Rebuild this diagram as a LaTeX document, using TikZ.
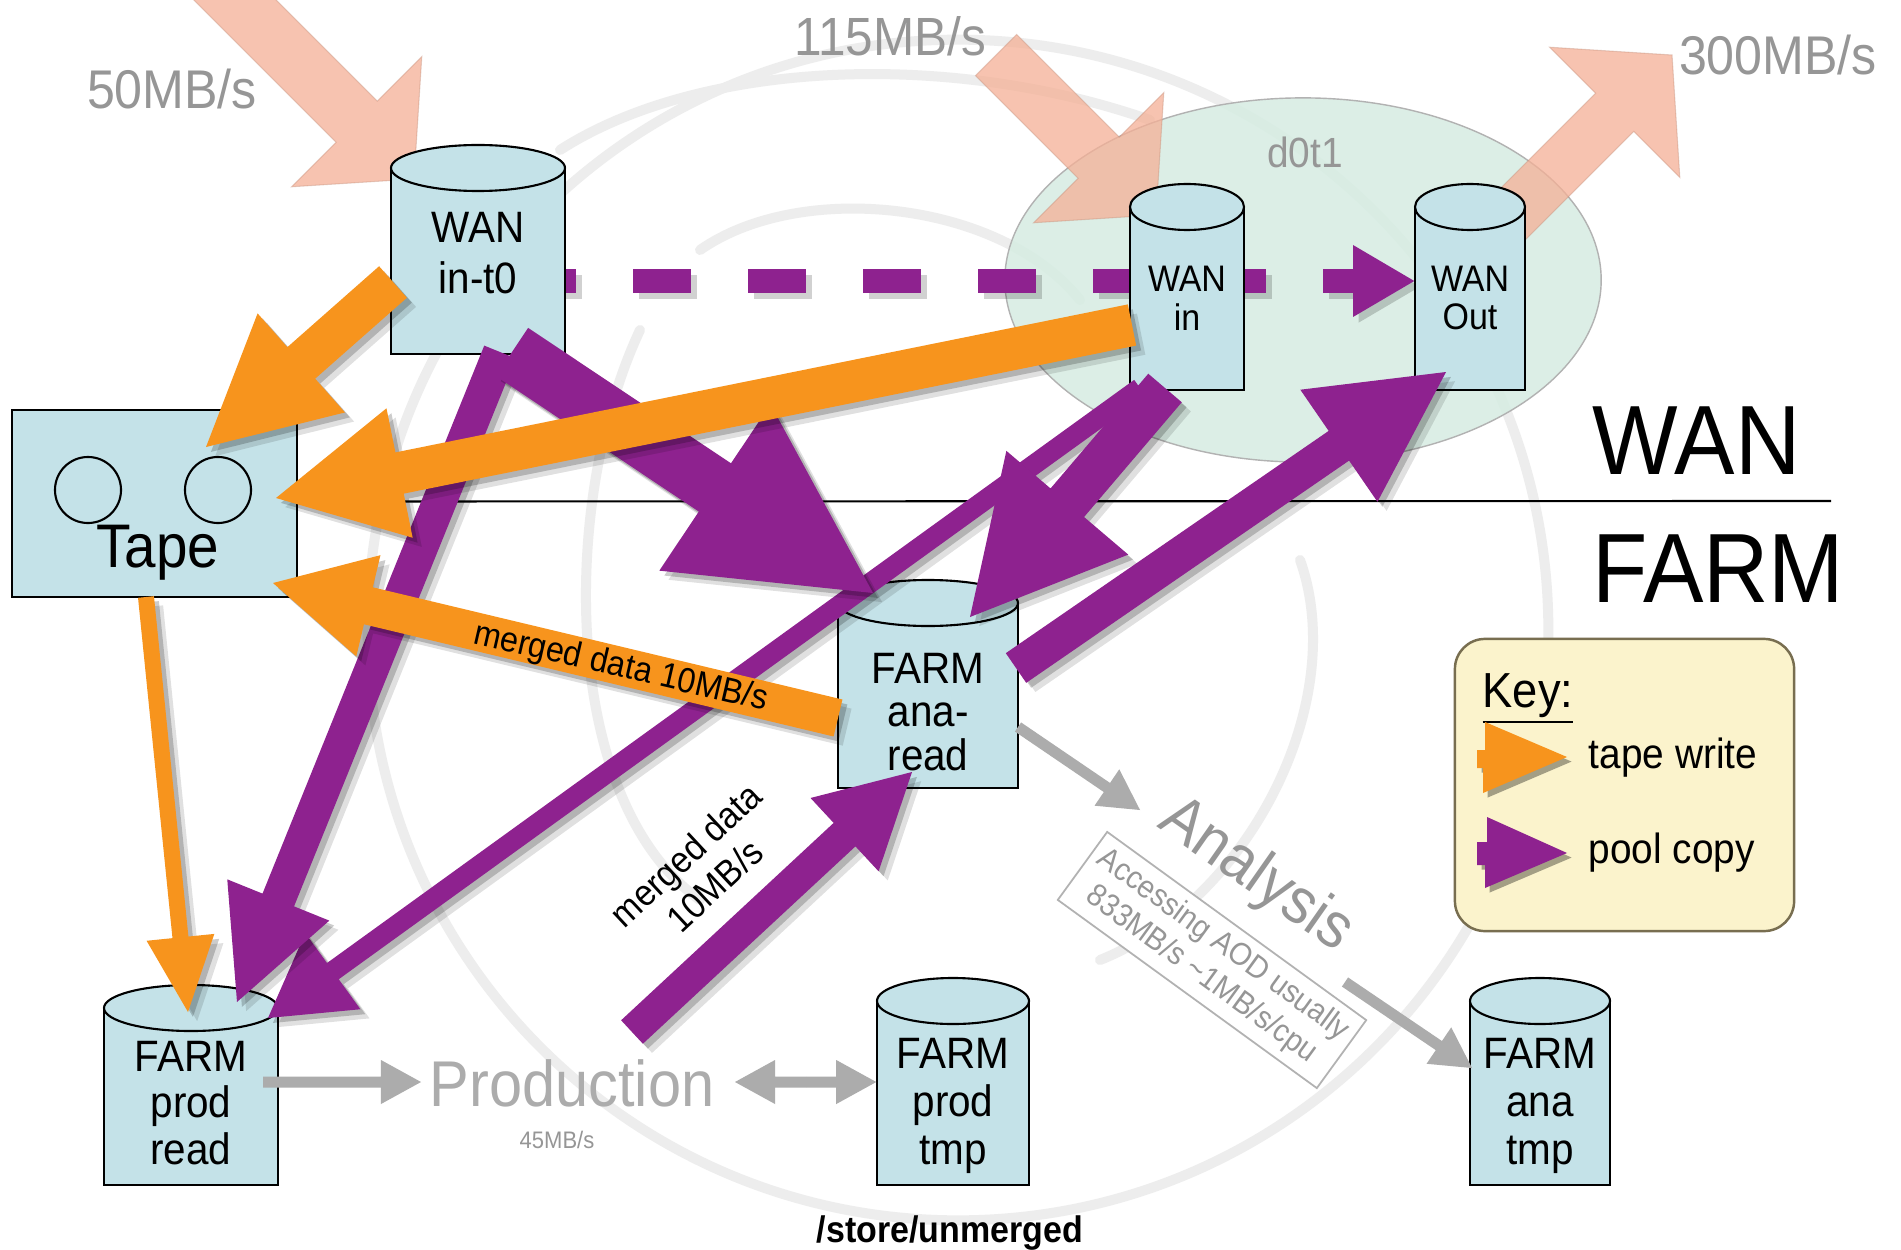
\documentclass[tikz,border=0pt]{standalone}
\usepackage{fontspec}
\setmainfont{Liberation Sans}[FakeStretch=0.92]
\usetikzlibrary{calc,shapes.geometric}
\definecolor{pcol}{RGB}{142,34,143}
\definecolor{ocol}{RGB}{247,148,29}
\definecolor{peach}{RGB}{245,176,150}
\definecolor{cylf}{RGB}{196,226,232}
\definecolor{dzone}{RGB}{214,236,226}
\definecolor{keyf}{RGB}{251,243,204}
\definecolor{keyb}{RGB}{120,110,80}
\definecolor{txtgray}{RGB}{150,150,150}
\definecolor{lgray}{RGB}{172,172,172}
\pgfdeclarelayer{lwm}
\pgfdeclarelayer{lzone}
\pgfdeclarelayer{lpeach}
\pgfdeclarelayer{ldash}
\pgfsetlayers{lwm,lzone,lpeach,ldash,main}
\newcommand{\fsz}[2]{\fontsize{#1}{#2}\selectfont}
% block arrow: style, tail, tip, half shaft, head length, half head
\newcommand{\barrow}[6]{%
  \coordinate (hb) at ($(#3)!#5!(#2)$);
  \fill[#1] ($(#2)!#4!90:(#3)$) -- ($(hb)!#4!90:(#3)$) -- ($(hb)!#6!90:(#3)$) -- (#3)
    -- ($(hb)!#6!-90:(#3)$) -- ($(hb)!#4!-90:(#3)$) -- ($(#2)!#4!-90:(#3)$) -- cycle;}
\newcommand{\sarrow}[6]{%
  \begin{scope}[transform canvas={xshift=2.6pt,yshift=-2.6pt}]\barrow{black,opacity=.12}{#2}{#3}{#4}{#5}{#6}\end{scope}
  \begin{scope}[transform canvas={xshift=1.4pt,yshift=-1.4pt}]\barrow{black,opacity=.2}{#2}{#3}{#4}{#5}{#6}\end{scope}
  \barrow{#1}{#2}{#3}{#4}{#5}{#6}}
% cylinder: name, cx, top, bottom, half width
\newcommand{\drum}[5]{%
  \pgfmathsetmacro{\dl}{#2-#5}\pgfmathsetmacro{\dr}{#2+#5}\pgfmathsetmacro{\de}{#3+23}%
  \pgfmathsetmacro{\dm}{(#3+#4)/2}\pgfmathsetmacro{\dw}{2*#5/100}\pgfmathsetmacro{\dh}{(#4-#3)/100}%
  \fill[cylf] (\dl,\de) rectangle (\dr,#4);
  \draw[cylline] (\dl,\de) -- (\dl,#4) -- (\dr,#4) -- (\dr,\de);
  \filldraw[cylline,fill=cylf] (#2,\de) ellipse [x radius=#5*0.01cm, y radius=0.23cm];
  \node[inner sep=0pt,minimum width=\dw cm,minimum height=\dh cm] (#1) at (#2,\dm) {};}
\begin{document}
\begin{tikzpicture}[x=0.01cm,y=-0.01cm,
  cylline/.style={draw=black,line width=0.6pt},
  txt/.style={inner sep=0pt,align=center},
  wm/.style={draw=black!7,line width=0.1cm,line cap=round},
  peachA/.style={fill=peach,draw=peach!80!black,line width=0.3pt,fill opacity=0.75,draw opacity=0.4},
  purpA/.style={fill=pcol},
  orA/.style={fill=ocol},
  grayA/.style={fill=lgray},
  grayT/.style={txt,text=txtgray}]
\useasboundingbox (0,0) rectangle (1901,1249);
\clip (0,0) rectangle (1901,1249);

% ---------- storage nodes ----------
\node[draw=black,line width=0.6pt,fill=cylf,minimum width=2.85cm,minimum height=1.87cm,inner sep=0pt] (tape) at (154.5,503.5) {};
\draw[line width=0.6pt] (88,490) circle [radius=0.33cm] (218,490) circle [radius=0.33cm];
\node[txt,font=\fsz{17.5}{20}] (tapeT) at (158,553) {Tape};

\drum{inT0}{478}{145}{354}{87}
\drum{wanIn}{1187}{184}{390}{57}
\drum{wanOut}{1470}{184}{390}{55}
\drum{anaRead}{928}{580}{788}{90}
\drum{prodRead}{191}{985}{1185}{87}
\drum{prodTmp}{953}{978}{1185}{76}
\drum{anaTmp}{1540}{978}{1185}{70}

\node[txt,font=\fsz{12.5}{14.5}] (inT0T) at (478,253) {WAN\\in-t0};
\node[txt,font=\fsz{10.5}{11}] (wanInT) at (1187,298) {WAN\\in};
\node[txt,font=\fsz{10.5}{11}] (wanOutT) at (1470,298) {WAN\\Out};
\node[txt,font=\fsz{12.5}{12.4}] (anaReadT) at (928,712) {FARM\\ana-\\read};
\node[txt,font=\fsz{12.5}{13.2}] (prodReadT) at (191,1103) {FARM\\prod\\read};
\node[txt,font=\fsz{12.5}{13.7}] (prodTmpT) at (953,1106) {FARM\\prod\\tmp};
\node[txt,font=\fsz{12.5}{13.7}] (anaTmpT) at (1540,1106) {FARM\\ana\\tmp};

% ---------- background sketch ----------
\begin{pgfonlayer}{lwm}
\fill[white] (0,0) rectangle (1901,1249);
\draw[wm] (958,630) circle [radius=5.9cm];
\draw[wm] (560,150) .. controls (700,60) and (950,50) .. (1150,120);
\draw[wm] (640,330) .. controls (560,500) and (560,800) .. (700,900);
\draw[wm] (1300,560) .. controls (1350,700) and (1250,900) .. (1100,960);
\draw[wm] (700,250) .. controls (800,180) and (1000,200) .. (1080,300);
\end{pgfonlayer}

% ---------- d0t1 zone ----------
\begin{pgfonlayer}{lzone}
\node[ellipse,minimum width=5.96cm,minimum height=3.64cm,fill=dzone,fill opacity=0.85,draw=black!30,line width=0.4pt] (zone) at (1303,280) {};
\node[grayT,font=\fsz{12}{14}] (zoneT) at (1305,152) {d0t1};
\end{pgfonlayer}

% ---------- WAN traffic ----------
\begin{pgfonlayer}{lpeach}
\coordinate (pe1a) at (165,-70);  \coordinate (pe1b) at (414,179);
\coordinate (pe2a) at (996,55);   \coordinate (pe2b) at (1156,215);
\coordinate (pe3a) at (1480,247); \coordinate (pe3b) at (1672,55);
\barrow{peachA}{pe1a}{pe1b}{0.29cm}{0.81cm}{0.92cm}
\barrow{peachA}{pe2a}{pe2b}{0.29cm}{0.81cm}{0.92cm}
\barrow{peachA}{pe3a}{pe3b}{0.27cm}{0.81cm}{0.92cm}
\end{pgfonlayer}

% ---------- dashed pool copy + WAN/FARM line ----------
\begin{pgfonlayer}{ldash}
\coordinate (dA) at (518,281); \coordinate (dB) at (1356,281); \coordinate (dT) at (wanOut.west |- dA);
\begin{scope}[transform canvas={xshift=1.6pt,yshift=-1.6pt}]
\draw[black,opacity=.18,line width=0.24cm,dash pattern=on 0.58cm off 0.57cm] (dA) -- (dB);
\fill[black,opacity=.18] (1353,245) -- (dT) -- (1353,317) -- cycle;
\end{scope}
\draw[pcol,line width=0.24cm,dash pattern=on 0.58cm off 0.57cm] (dA) -- (dB);
\fill[pcol] (1353,245) -- (dT) -- (1353,317) -- cycle;
\draw[line width=0.6pt] ($(tape.east)+(0,-2)$) -- (1831,501);
\end{pgfonlayer}

% ---------- pool copy arrows ----------
\coordinate (p2a) at (500,352);  \coordinate (p2b) at (237,1002);
\coordinate (p3a) at (1140,388); \coordinate (p3b) at (268,1018);
\coordinate (p4a) at (512,352);  \coordinate (p4b) at (873,593);
\coordinate (p5a) at (1165,388); \coordinate (p5b) at (970,617);
\coordinate (p6a) at (1016,668); \coordinate (p6b) at (1446,372);
\coordinate (p7a) at (632,1032); \coordinate (p7b) at (912,772);
\sarrow{purpA}{p3a}{p3b}{0.10cm}{0.80cm}{0.47cm}
\sarrow{purpA}{p2a}{p2b}{0.17cm}{1.10cm}{0.55cm}
\sarrow{purpA}{p4a}{p4b}{0.29cm}{1.90cm}{1.00cm}
\sarrow{purpA}{p5a}{p5b}{0.22cm}{1.50cm}{0.80cm}
\sarrow{purpA}{p6a}{p6b}{0.18cm}{1.30cm}{0.68cm}
\sarrow{purpA}{p7a}{p7b}{0.16cm}{0.92cm}{0.50cm}

% ---------- tape write arrows ----------
\coordinate (o1a) at (393,282);  \coordinate (o1b) at (206,447);
\coordinate (o2a) at (1132,325); \coordinate (o2b) at (276,498);
\coordinate (o3a) at (838,718);  \coordinate (o3b) at (273,583);
\coordinate (o4a) at (146,597);  \coordinate (o4b) at (188,1012);
\sarrow{orA}{o1a}{o1b}{0.21cm}{1.27cm}{0.66cm}
\sarrow{orA}{o2a}{o2b}{0.21cm}{1.26cm}{0.66cm}
\sarrow{orA}{o3a}{o3b}{0.19cm}{0.98cm}{0.52cm}
\sarrow{orA}{o4a}{o4b}{0.08cm}{0.75cm}{0.34cm}

% ---------- processing arrows ----------
\coordinate (g1a) at (263,1082);  \coordinate (g1b) at (421,1082);
\coordinate (g2m) at (806,1082);  \coordinate (g2a) at (735,1082); \coordinate (g2b) at (prodTmp.west |- g2m);
\coordinate (g3a) at (1018,727);  \coordinate (g3b) at (1140,810);
\coordinate (g4a) at (1345,982);  \coordinate (g4b) at (1472,1068);
\barrow{grayA}{g1a}{g1b}{0.055cm}{0.40cm}{0.22cm}
\barrow{grayA}{g2m}{g2a}{0.055cm}{0.40cm}{0.22cm}
\barrow{grayA}{g2m}{g2b}{0.055cm}{0.40cm}{0.22cm}
\barrow{grayA}{g3a}{g3b}{0.055cm}{0.40cm}{0.22cm}
\barrow{grayA}{g4a}{g4b}{0.055cm}{0.40cm}{0.22cm}

% ---------- labels ----------
\node[grayT,font=\fsz{15.5}{18}] (r50) at (172,89) {50MB/s};
\node[grayT,font=\fsz{15.3}{18}] (r115) at (890,36) {115MB/s};
\node[grayT,font=\fsz{15.5}{18}] (r300) at (1778,55) {300MB/s};
\node[txt,anchor=base west,font=\fsz{28}{32}] (wanL) at (1592,474) {WAN};
\node[txt,anchor=base west,font=\fsz{28}{32}] (farmL) at (1592,602) {FARM};
\node[txt,text=lgray,font=\fsz{18.4}{20}] (prodL) at (572,1083) {Production};
\node[grayT,font=\fsz{6.8}{8}] (r45) at (557,1140) {45MB/s};
\node[txt,font=\bfseries\fsz{10.5}{12}] (store) at (950,1233) {/store/unmerged};
\node[txt,rotate=-13,font=\fsz{10}{12}] (mdT) at (621,668) {merged data 10MB/s};
\node[txt,rotate=43,font=\fsz{10.5}{12}] (mdP) at (700,870) {merged data\\10MB/s};
\node[draw=black!30,fill=white,line width=0.5pt,rotate=-36,minimum width=3.2cm,minimum height=0.84cm,inner sep=0pt,align=center,text=txtgray,font=\fsz{9}{10.5}] (aodBox) at (1212,960) {Accessing AOD usually\\833MB/s \textasciitilde1MB/s/cpu};
\node[txt,text=txtgray,rotate=-35,font=\fsz{18.2}{20}] (anaL) at (1256,876) {Analysis};

% ---------- key ----------
\node[draw=keyb,fill=keyf,line width=0.7pt,rounded corners=0.3cm,minimum width=3.39cm,minimum height=2.92cm] (key) at (1624.5,785) {};
\node[txt,anchor=base west,font=\fsz{14}{16}] (keyT) at (1482,707) {\underline{Key:}};
\begin{scope}[transform canvas={xshift=1.3pt,yshift=-1.3pt}]
\fill[black,opacity=.35] (1485,722) -- (1485,750) -- (1477,750) -- (1477,768) -- (1483,768) -- (1483,793) -- (1567,757) -- cycle;
\fill[black,opacity=.35] (1487,817) -- (1487,842) -- (1477,842) -- (1477,865) -- (1485,865) -- (1485,888) -- (1567,853) -- cycle;
\end{scope}
\fill[ocol] (1485,722) -- (1485,750) -- (1477,750) -- (1477,768) -- (1483,768) -- (1483,793) -- (1567,757) -- cycle;
\fill[pcol] (1487,817) -- (1487,842) -- (1477,842) -- (1477,865) -- (1485,865) -- (1485,888) -- (1567,853) -- cycle;
\node[txt,anchor=west,font=\fsz{12}{14}] (kTape) at (1588,758) {tape write};
\node[txt,anchor=west,font=\fsz{12}{14}] (kPool) at (1588,853) {pool copy};
\end{tikzpicture}
\end{document}
